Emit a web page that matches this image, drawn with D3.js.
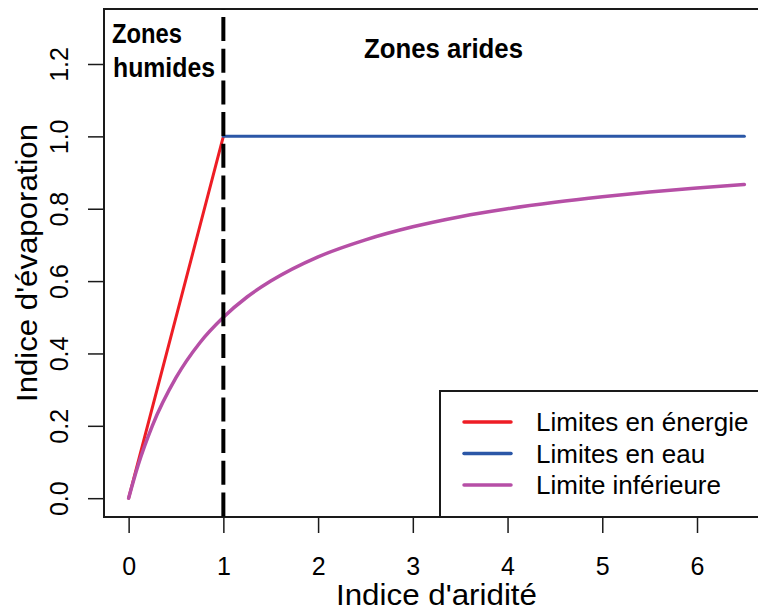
<!DOCTYPE html>
<html>
<head>
<meta charset="utf-8">
<script src="https://cdn.jsdelivr.net/npm/d3@7"></script>
<style>
  html, body { margin: 0; padding: 0; background: #fff; }
  svg { display: block; font-family: "Liberation Sans", Arial, sans-serif; }
</style>
</head>
<body>
<svg id="chart" width="758" height="610"></svg>
<script>
// ---- Data ----
const energyX = [0, 1];
const energyY = [0, 1];
const waterX = [1, 6.5];
const waterY = [1, 1];
const lowerX = [0, 0.1, 0.25, 0.5, 0.75, 1, 1.25, 1.5, 2, 2.5, 3, 3.5, 4, 4.5, 5, 5.5, 6, 6.5];
const lowerY = [0, 0.091, 0.2, 0.333, 0.429, 0.5, 0.556, 0.6, 0.667, 0.714, 0.75, 0.778, 0.8, 0.818, 0.833, 0.846, 0.857, 0.867];
const xTicks = [0, 1, 2, 3, 4, 5, 6];
const yTicks = [0, 0.2, 0.4, 0.6, 0.8, 1.0, 1.2];
const seriesNames = ["Limites en énergie", "Limites en eau", "Limite inférieure"];
const seriesColors = ["#ee1d25", "#2b57a7", "#b64fa6"];
const zoneBoundary = 1;

// ---- Layout ----
const svg = d3.select("#chart");
const plot = { left: 104, top: 9, right: 769, bottom: 517 };
const x = d3.scaleLinear().domain([-0.26, 6.76]).range([plot.left, plot.right]);
const y = d3.scaleLinear().domain([-0.052, 1.352]).range([plot.bottom, plot.top]);

const zip = (xs, ys) => xs.map((v, i) => [v, ys[i]]);
const line = d3.line().x(d => x(d[0])).y(d => y(d[1]));

// Frame
svg.append("rect")
  .attr("x", plot.left).attr("y", plot.top)
  .attr("width", plot.right - plot.left).attr("height", plot.bottom - plot.top)
  .attr("fill", "none").attr("stroke", "#1a1a1a").attr("stroke-width", 2);

// X axis
const xAxis = d3.axisBottom(x).tickValues(xTicks).tickSize(16).tickFormat(d3.format("d"));
const gx = svg.append("g").attr("transform", `translate(0,${plot.bottom})`).call(xAxis);
gx.select(".domain").remove();
gx.selectAll(".tick line").attr("stroke", "#1a1a1a").attr("stroke-width", 1.5);
gx.selectAll(".tick text").attr("y", 58).attr("dy", null)
  .attr("font-size", 25).attr("fill", "#000")
  .attr("font-family", "Liberation Sans, Arial, sans-serif");

// Y axis
const yAxis = d3.axisLeft(y).tickValues(yTicks).tickSize(16).tickFormat(d3.format(".1f"));
const gy = svg.append("g").attr("transform", `translate(${plot.left},0)`).call(yAxis);
gy.select(".domain").remove();
gy.selectAll(".tick line").attr("stroke", "#1a1a1a").attr("stroke-width", 1.5);
gy.selectAll(".tick text")
  .attr("x", null).attr("dy", null)
  .attr("transform", "translate(-36,0) rotate(-90)")
  .attr("text-anchor", "middle")
  .attr("font-size", 25).attr("fill", "#000")
  .attr("font-family", "Liberation Sans, Arial, sans-serif");

// Axis titles
svg.append("text")
  .attr("x", (plot.left + plot.right) / 2).attr("y", 605)
  .attr("text-anchor", "middle").attr("font-size", 30)
  .attr("textLength", 201).attr("lengthAdjust", "spacingAndGlyphs")
  .text("Indice d'aridité");
svg.append("text")
  .attr("transform", `translate(37,${(plot.top + plot.bottom) / 2}) rotate(-90)`)
  .attr("text-anchor", "middle").attr("font-size", 30)
  .attr("textLength", 278).attr("lengthAdjust", "spacingAndGlyphs")
  .text("Indice d'évaporation");

// Series
svg.append("clipPath").attr("id", "clip").append("rect")
  .attr("x", plot.left).attr("y", plot.top)
  .attr("width", plot.right - plot.left).attr("height", plot.bottom - plot.top);
const g = svg.append("g").attr("clip-path", "url(#clip)");

g.append("path").datum(zip(energyX, energyY)).attr("d", line)
  .attr("fill", "none").attr("stroke", seriesColors[0]).attr("stroke-width", 3).attr("stroke-linecap", "round");
g.append("path").datum(zip(waterX, waterY)).attr("d", line)
  .attr("fill", "none").attr("stroke", seriesColors[1]).attr("stroke-width", 3).attr("stroke-linecap", "round");
g.append("path").datum(zip(lowerX, lowerY)).attr("d", line.curve(d3.curveMonotoneX))
  .attr("fill", "none").attr("stroke", seriesColors[2]).attr("stroke-width", 3.5).attr("stroke-linecap", "round");

// Dashed boundary
g.append("line")
  .attr("x1", x(zoneBoundary)).attr("x2", x(zoneBoundary))
  .attr("y1", plot.top).attr("y2", plot.bottom)
  .attr("stroke", "#000").attr("stroke-width", 4)
  .attr("stroke-dasharray", "24 7.7").attr("stroke-dashoffset", 23.7);

// Zone labels
svg.append("text").attr("x", 112).attr("y", 43)
  .attr("font-size", 27).attr("font-weight", "bold")
  .attr("textLength", 70).attr("lengthAdjust", "spacingAndGlyphs").text("Zones");
svg.append("text").attr("x", 113).attr("y", 77)
  .attr("font-size", 27).attr("font-weight", "bold")
  .attr("textLength", 102).attr("lengthAdjust", "spacingAndGlyphs").text("humides");
svg.append("text").attr("x", 364).attr("y", 58)
  .attr("font-size", 27).attr("font-weight", "bold")
  .attr("textLength", 159).attr("lengthAdjust", "spacingAndGlyphs").text("Zones arides");

// Legend
const legend = svg.append("g");
legend.append("rect")
  .attr("x", 440).attr("y", 391).attr("width", 340).attr("height", plot.bottom - 391)
  .attr("fill", "#fff").attr("stroke", "#1a1a1a").attr("stroke-width", 2);
seriesNames.forEach((name, i) => {
  const ly = 422 + i * 31.5;
  legend.append("line").attr("x1", 464).attr("x2", 511).attr("y1", ly).attr("y2", ly)
    .attr("stroke", seriesColors[i]).attr("stroke-width", 3.5).attr("stroke-linecap", "round");
  legend.append("text").attr("x", 536).attr("y", ly + 9)
    .attr("font-size", 26).attr("fill", "#000").text(name);
});
</script>
</body>
</html>
